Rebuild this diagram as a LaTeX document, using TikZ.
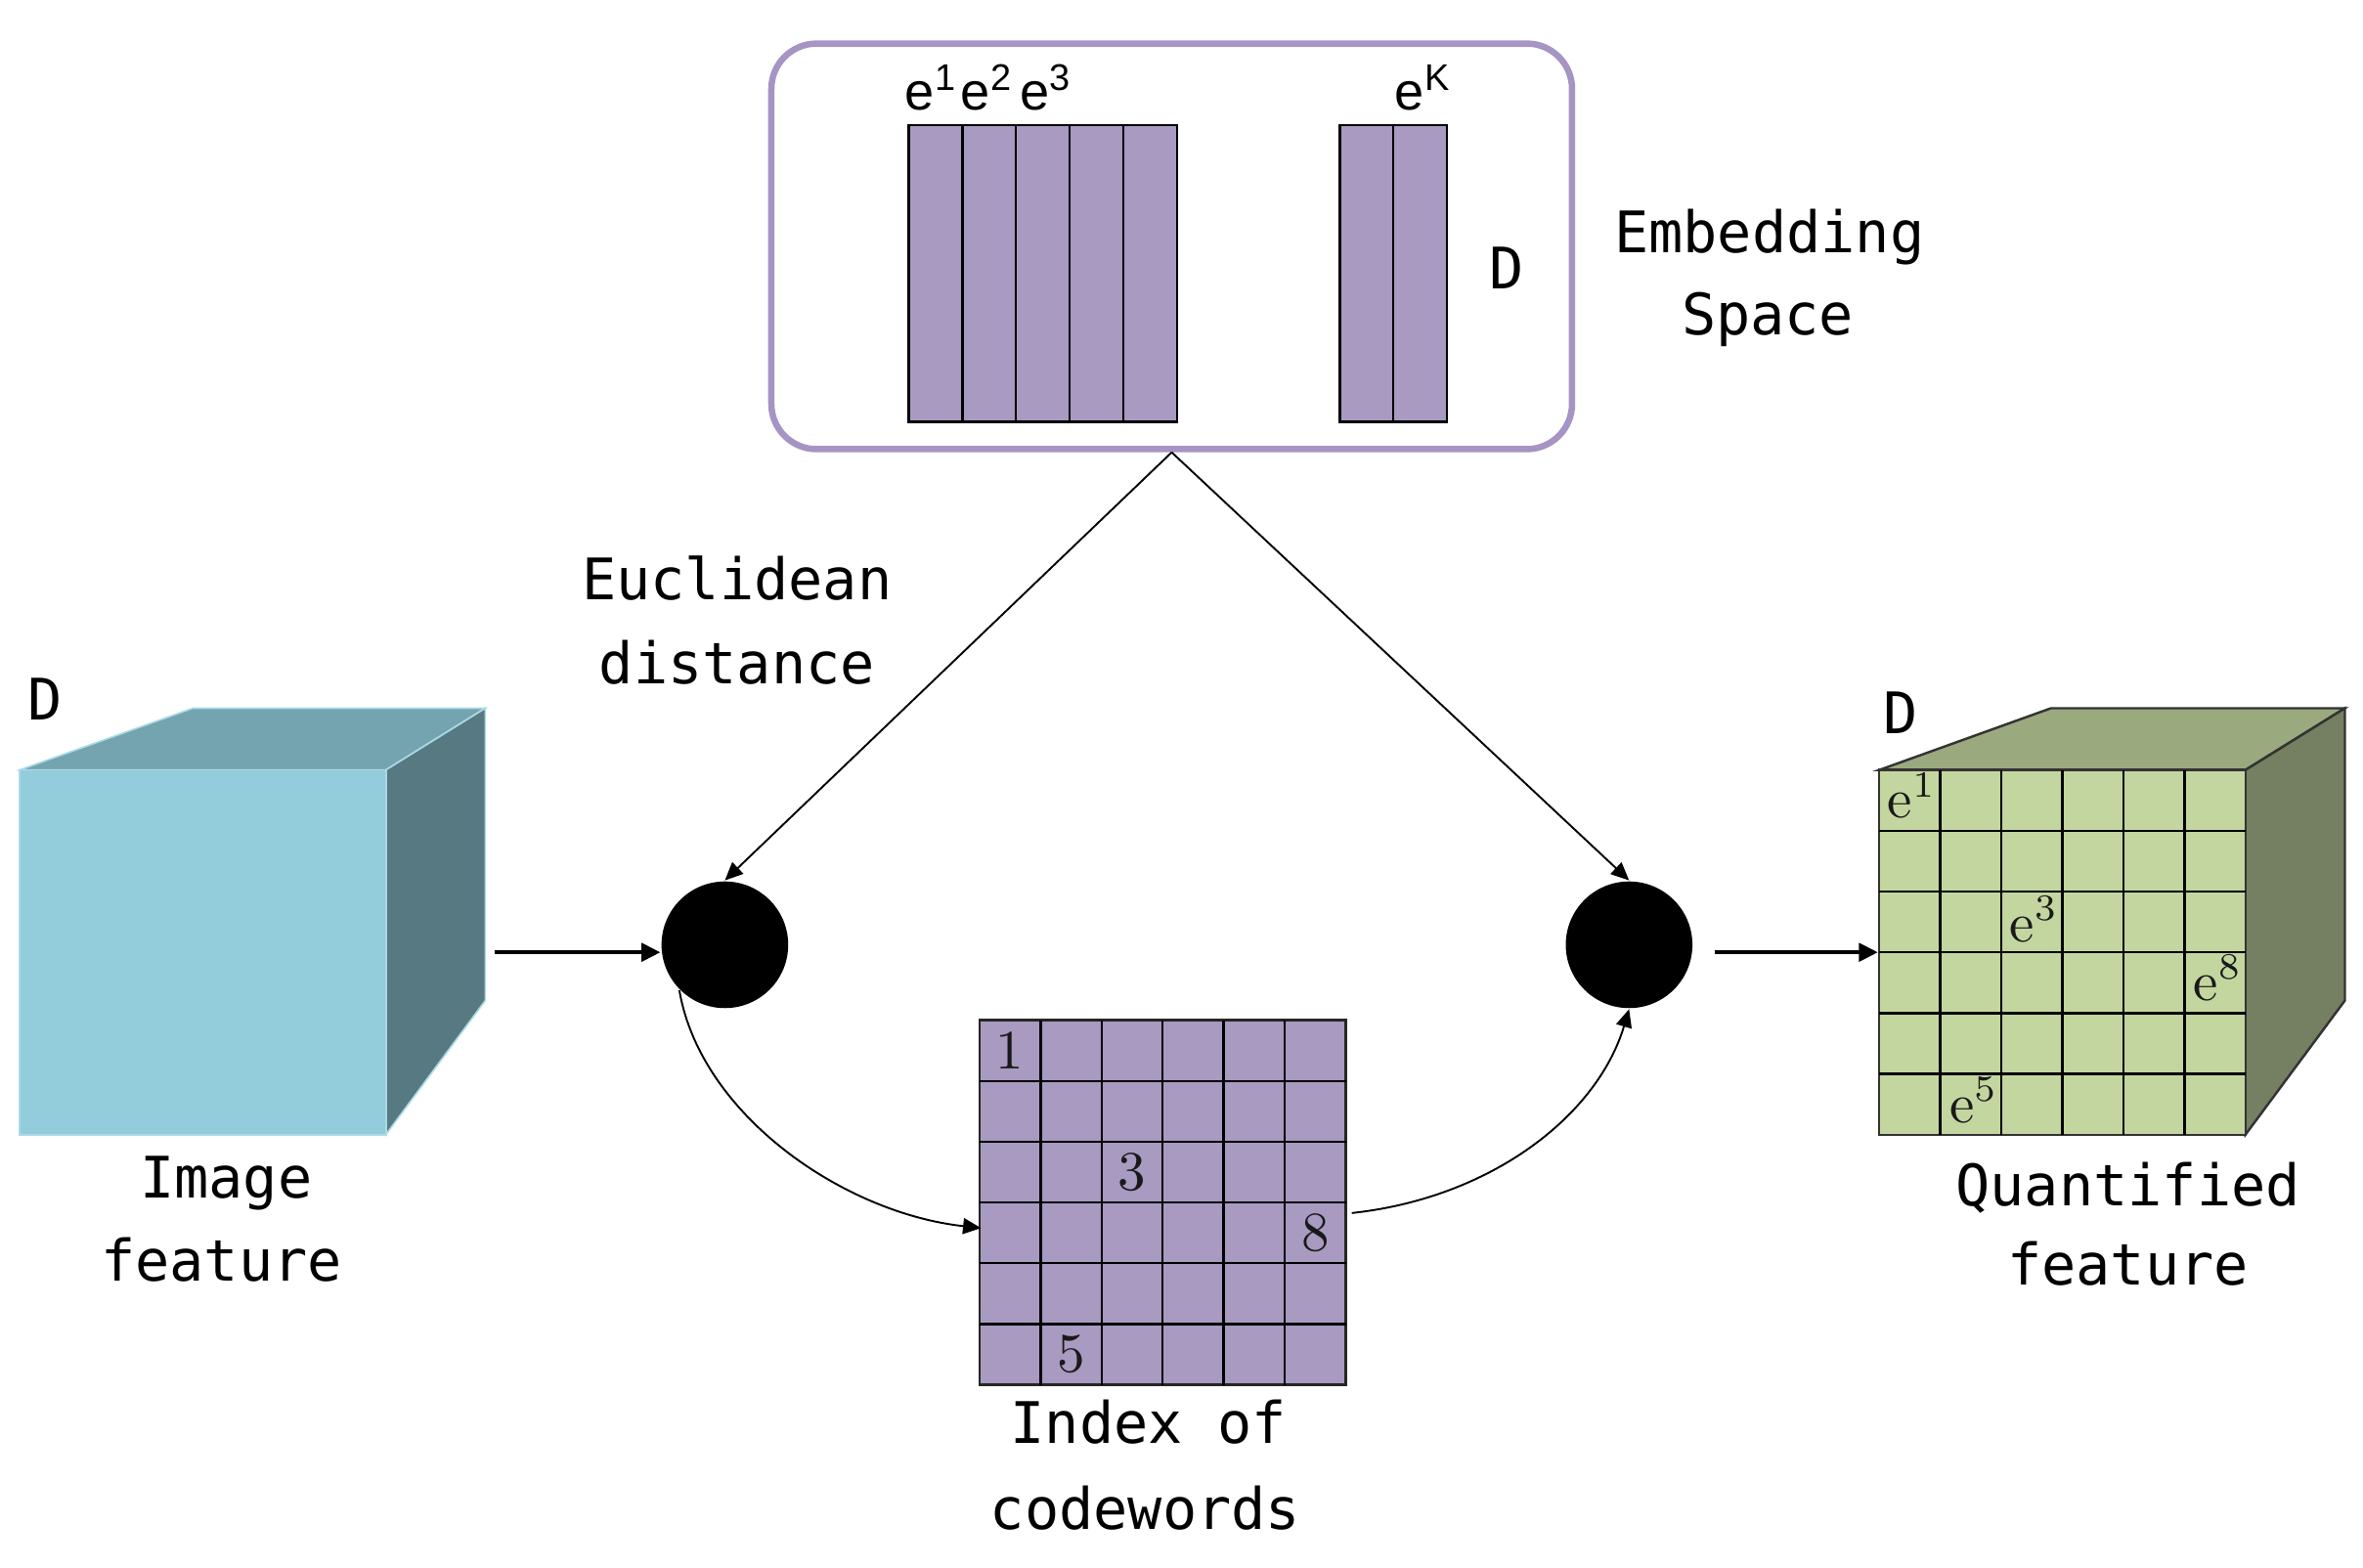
\documentclass[tikz,border=0pt]{standalone}
\usepackage{fontspec}
\newfontfamily\monof{DejaVu Sans Mono}
\newfontfamily\arialf{Liberation Sans}
\usetikzlibrary{arrows.meta}
\definecolor{purp}{RGB}{168,154,192}
\definecolor{purpline}{RGB}{166,148,196}
\definecolor{bluefront}{RGB}{147,204,218}
\definecolor{bluetop}{RGB}{116,164,176}
\definecolor{blueside}{RGB}{87,122,130}
\definecolor{blueedge}{RGB}{170,218,230}
\definecolor{grnfront}{RGB}{195,214,159}
\definecolor{grntop}{RGB}{154,169,126}
\definecolor{grnside}{RGB}{116,128,97}
\begin{document}
\begin{tikzpicture}[x=0.01cm,y=-0.01cm,
  txt/.style={font=\monof\fontsize{10.8pt}{13pt}\selectfont, inner sep=0, anchor=base},
  supl/.style={font=\arialf\fontsize{10pt}{12pt}\selectfont, inner sep=0, anchor=base west},
  cell/.style={font=\fontsize{10.5pt}{12pt}\selectfont, inner sep=0, text=black!90},
  elbl/.style={font=\fontsize{10.5pt}{12pt}\selectfont, inner sep=0, anchor=base west, text=black!90},
  dot/.style={circle, fill=black, minimum size=0.84cm, inner sep=0},
  conn/.style={line width=0.35pt, -{Triangle[length=3.4pt,width=3pt]}},
  hconn/.style={line width=0.8pt, -{Triangle[length=3.6pt,width=3.4pt]}}]
\useasboundingbox (0,0) rectangle (1568,1040);

% ---------- Embedding space ----------
\node[draw=purpline, line width=1.2pt, rounded corners=0.3cm,
      minimum width=5.31cm, minimum height=2.69cm, inner sep=0] (emb) at (777.5,163.5) {};
\foreach \i in {0,...,4}
  \draw[fill=purp, line width=0.45pt] (603+35.6*\i,83) rectangle (638.6+35.6*\i,280);
\foreach \i in {0,1}
  \draw[fill=purp, line width=0.45pt] (889+35.5*\i,83) rectangle (924.5+35.5*\i,280);
\node[supl] (e1) at (600,73) {e\textsuperscript{1}};
\node[supl] (e2) at (637,73) {e\textsuperscript{2}};
\node[supl] (e3) at (676,73) {e\textsuperscript{3}};
\node[supl] (eK) at (925,73) {e\textsuperscript{K}};
\node[txt] (dEmb) at (1000,192) {D};
\node[txt] (emb1) at (1174,168) {Embedding};
\node[txt] (emb2) at (1173,222) {Space};

% ---------- Image feature cube ----------
\fill[bluetop, draw=blueedge, line width=0.3pt] (13,511) -- (128,470) -- (322,470) -- (256,511) -- cycle;
\fill[blueside, draw=blueedge, line width=0.3pt] (256,511) -- (322,470) -- (322,664) -- (256,753) -- cycle;
\node[fill=bluefront, draw=blueedge, line width=0.3pt, minimum width=2.43cm, minimum height=2.42cm, inner sep=0] (imgf) at (134.5,632) {};
\node[txt] (dL) at (30,478) {D};
\node[txt] (img1) at (150,795) {Image};
\node[txt] (img2) at (147,850) {feature};
\coordinate (imgout) at (328,632);

% ---------- Quantified feature cube ----------
\filldraw[fill=grntop, draw=black!80, line width=0.45pt] (1247,511) -- (1361,470) -- (1556,470) -- (1490,511) -- cycle;
\filldraw[fill=grnside, draw=black!80, line width=0.45pt] (1490,511) -- (1556,470) -- (1556,664) -- (1490,753) -- cycle;
\node[fill=grnfront, draw=black!80, line width=0.45pt, minimum width=2.43cm, minimum height=2.42cm, inner sep=0] (qf) at (1368.5,632) {};
\foreach \i in {1,...,5} {
  \draw[line width=0.45pt] (1247+40.5*\i,511) -- (1247+40.5*\i,753);
  \draw[line width=0.45pt] (1247,511+40.33*\i) -- (1490,511+40.33*\i);
}
\node[elbl] (q1) at (1252,543) {$\mathrm{e}^{1}$};
\node[elbl] (q3) at (1333,625) {$\mathrm{e}^{3}$};
\node[elbl] (q8) at (1455,664) {$\mathrm{e}^{8}$};
\node[elbl] (q5) at (1293,745) {$\mathrm{e}^{5}$};
\node[txt] (dR) at (1261,487) {D};
\node[txt] (q1t) at (1412,800) {Quantified};
\node[txt] (q2t) at (1412,853) {feature};

% ---------- Index of codewords ----------
\node[fill=purp, draw=black!85, line width=0.45pt, minimum width=2.43cm, minimum height=2.42cm, inner sep=0] (idx) at (771.5,798) {};
\foreach \i in {1,...,5} {
  \draw[line width=0.45pt] (650+40.5*\i,677) -- (650+40.5*\i,919);
  \draw[line width=0.45pt] (650,677+40.33*\i) -- (893,677+40.33*\i);
}
\node[cell] (n1) at (670.25,697.2) {1};
\node[cell] (n3) at (751.25,777.8) {3};
\node[cell] (n8) at (872.75,818.2) {8};
\node[cell] (n5) at (710.75,898.8) {5};
\node[txt] (ix1) at (762,958) {Index of};
\node[txt] (ix2) at (760,1015) {codewords};
\coordinate (idxin) at (651,815);
\coordinate (idxout) at (897,805);

% ---------- distance nodes ----------
\node[dot] (cL) at (481,627) {};
\node[dot] (cR) at (1081,627) {};
\node[txt] (eu1) at (489,398) {Euclidean};
\node[txt] (eu2) at (489,454) {distance};

% ---------- connectors ----------
\coordinate (apex) at (emb.south);
\draw[conn] (apex) -- (cL.north);
\draw[conn] (apex) -- (cR.north);
\draw[hconn] (imgout) -- (imgout -| cL.west);
\coordinate (qin) at (1138,632);
\draw[hconn] (qin) -- (qf.west);
\draw[conn] (cL.225) .. controls (465,740) and (560,805) .. (idxin);
\draw[conn] (idxout) .. controls (990,795) and (1060,740) .. (cR.south);
\end{tikzpicture}
\end{document}
